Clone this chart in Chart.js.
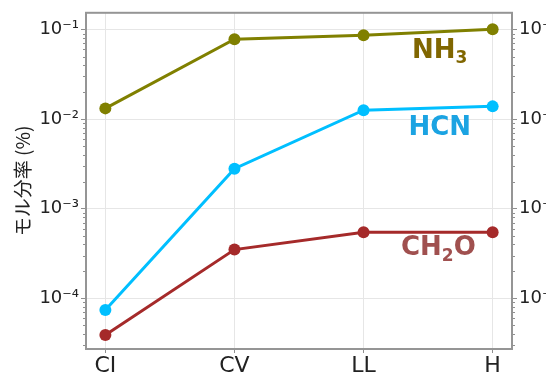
<!DOCTYPE html>
<html>
<head>
<meta charset="utf-8">
<script src="https://cdn.jsdelivr.net/npm/chart.js@4"></script>
<style>
  html, body { margin: 0; padding: 0; background: #fff; }
  #wrap { width: 546px; height: 376px; overflow: hidden; position: relative; }
  canvas { display: block; }
</style>
</head>
<body>
<div id="wrap"><canvas id="grafico" width="575" height="376"></canvas></div>
<script>
// Dados
const categorias = ['CI', 'CV', 'LL', 'H'];
const nh3 = [0.0132, 0.078, 0.0865, 0.101];
const hcn = [7.4e-5, 2.8e-3, 0.0126, 0.0139];
const ch2o = [3.9e-5, 3.5e-4, 5.47e-4, 5.47e-4];
const ticksY = [1e-4, 1e-3, 1e-2, 1e-1];
const rotulosY = ['10⁻⁴', '10⁻³', '10⁻²', '10⁻¹'];

// rótulos das séries (posição em coordenadas de dados)
const rotulos = [
    { base: 'NH', sub: '3', fim: '', x: 2.59, y: 0.058, cor: '#806600' },
    { base: 'HCN', sub: '', fim: '', x: 2.59, y: 0.0079, cor: '#1ba3e2' },
    { base: 'CH', sub: '2', fim: 'O', x: 2.58, y: 3.6e-4, cor: '#a0504f' }
];

const larguraCanvas = 575;
const area = { left: 86, top: 10, right: 512, bottom: 349 };

function serie(valores, cor) {
    return {
        data: valores.map((v, i) => ({ x: i, y: v })),
        borderColor: cor,
        backgroundColor: cor,
        borderWidth: 3,
        pointRadius: 6,
        pointHoverRadius: 6,
        pointBorderWidth: 0
    };
}

// Ticks menores, moldura e rótulos das séries
const pluginExtras = {
    id: 'extras',
    afterDraw(chart) {
        const ctx = chart.ctx;
        const ca = chart.chartArea;
        ctx.save();
        ctx.strokeStyle = '#8f8f8f';
        ctx.lineWidth = 1;
        ['y', 'y2'].forEach(id => {
            const s = chart.scales[id];
            for (let d = -5; d <= 0; d++) {
                for (let k = 2; k <= 9; k++) {
                    const v = k * Math.pow(10, d);
                    if (v < s.min || v > s.max) continue;
                    const py = Math.round(s.getPixelForValue(v)) + 0.5;
                    ctx.beginPath();
                    if (id === 'y') { ctx.moveTo(ca.left, py); ctx.lineTo(ca.left - 3, py); }
                    else { ctx.moveTo(ca.right, py); ctx.lineTo(ca.right + 3, py); }
                    ctx.stroke();
                }
            }
        });
        ctx.strokeStyle = '#959595';
        ctx.lineWidth = 2;
        ctx.strokeRect(ca.left, ca.top, ca.right - ca.left, ca.bottom - ca.top);

        const sx = chart.scales.x, sy = chart.scales.y;
        ctx.textBaseline = 'middle';
        ctx.textAlign = 'left';
        rotulos.forEach(r => {
            const fonteG = 'bold 26px "DejaVu Sans"';
            const fonteP = 'bold 17px "DejaVu Sans"';
            ctx.font = fonteG;
            let w = ctx.measureText(r.base).width + ctx.measureText(r.fim).width;
            ctx.font = fonteP;
            w += ctx.measureText(r.sub).width;
            let px = sx.getPixelForValue(r.x) - w / 2;
            const py = sy.getPixelForValue(r.y);
            ctx.fillStyle = r.cor;
            ctx.font = fonteG;
            ctx.fillText(r.base, px, py);
            px += ctx.measureText(r.base).width;
            ctx.font = fonteP;
            ctx.fillText(r.sub, px, py + 8);
            px += ctx.measureText(r.sub).width;
            ctx.font = fonteG;
            ctx.fillText(r.fim, px, py);
        });
        ctx.restore();
    }
};

const ctx = document.getElementById('grafico').getContext('2d');
new Chart(ctx, {
    type: 'line',
    data: {
        datasets: [
            serie(nh3, '#808000'),
            serie(hcn, '#00bfff'),
            serie(ch2o, '#a52a2a')
        ]
    },
    options: {
        responsive: false,
        animation: false,
        devicePixelRatio: 1,
        layout: { padding: { top: area.top, left: 0, right: 0, bottom: 0 } },
        plugins: { legend: { display: false }, tooltip: { enabled: false } },
        scales: {
            x: {
                type: 'linear',
                min: -0.15,
                max: 3.15,
                afterBuildTicks: s => { s.ticks = categorias.map((c, i) => ({ value: i })); },
                afterFit: s => { s.height = 376 - area.bottom; },
                ticks: {
                    callback: v => categorias[v],
                    font: { family: '"DejaVu Sans"', size: 22 },
                    color: '#222',
                    padding: 0,
                    maxRotation: 0
                },
                grid: { color: '#e6e6e6', lineWidth: 1, tickColor: '#8f8f8f', tickLength: 4 },
                border: { display: false }
            },
            y: {
                type: 'logarithmic',
                position: 'left',
                min: 2.72e-5,
                max: 0.154,
                afterBuildTicks: s => { s.ticks = ticksY.map(v => ({ value: v })); },
                afterFit: s => { s.width = area.left; },
                ticks: {
                    callback: v => rotulosY[ticksY.indexOf(v)],
                    font: { family: '"DejaVu Sans"', size: 18 },
                    color: '#222',
                    padding: 2
                },
                title: {
                    display: true,
                    text: 'モル分率 (%)',
                    font: { family: '"Noto Sans CJK JP"', size: 19 },
                    color: '#222',
                    padding: { top: 11, bottom: 0 }
                },
                grid: { color: '#e6e6e6', lineWidth: 1, tickColor: '#8f8f8f', tickLength: 5 },
                border: { display: false }
            },
            y2: {
                type: 'logarithmic',
                position: 'right',
                min: 2.72e-5,
                max: 0.154,
                afterBuildTicks: s => { s.ticks = ticksY.map(v => ({ value: v })); },
                afterFit: s => { s.width = larguraCanvas - area.right; },
                ticks: {
                    callback: v => rotulosY[ticksY.indexOf(v)],
                    font: { family: '"DejaVu Sans"', size: 18 },
                    color: '#222',
                    padding: 2
                },
                grid: { drawOnChartArea: false, tickColor: '#8f8f8f', tickLength: 5 },
                border: { display: false }
            }
        }
    },
    plugins: [pluginExtras]
});
</script>
</body>
</html>
